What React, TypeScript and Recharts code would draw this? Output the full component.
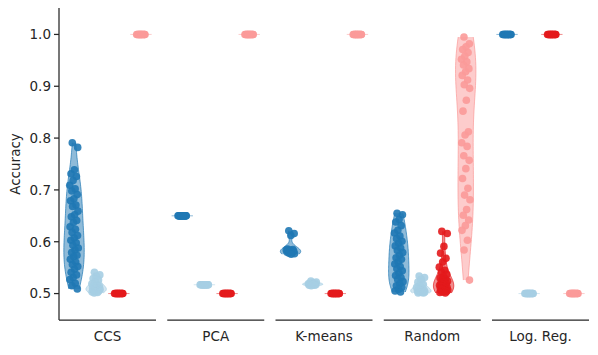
import { Area, ComposedChart, ReferenceLine, Scatter, XAxis, YAxis } from "recharts"

const categories = ["CCS", "PCA", "K-means", "Random", "Log. Reg."]
const yTicks = [0.5, 0.6, 0.7, 0.8, 0.9, 1.0]

// CCS
const ccsDark = [
  0.791, 0.782, 0.739, 0.731, 0.726, 0.718, 0.709, 0.702, 0.698, 0.691, 0.683, 0.679, 0.671, 0.668, 0.659,
  0.652, 0.648, 0.641, 0.637, 0.629, 0.624, 0.618, 0.612, 0.607, 0.603, 0.598, 0.593, 0.588, 0.584, 0.579,
  0.574, 0.571, 0.566, 0.561, 0.556, 0.552, 0.547, 0.541, 0.536, 0.531, 0.527, 0.52, 0.515, 0.509,
]
const ccsLight = [
  0.541, 0.536, 0.533, 0.529, 0.526, 0.522, 0.519, 0.517, 0.515, 0.514, 0.512, 0.511, 0.51, 0.509, 0.508,
  0.507, 0.506, 0.505, 0.504, 0.503, 0.502, 0.501,
]
const ccsRed = [0.5, 0.5, 0.5, 0.5, 0.5, 0.5, 0.5, 0.5, 0.5, 0.5, 0.5, 0.5, 0.5, 0.5, 0.5, 0.5]
const ccsPink = [1, 1, 1, 1, 1, 1, 1, 1, 1, 1, 1, 1, 1, 1, 1, 1]

// PCA
const pcaDark = [0.65, 0.65, 0.65, 0.65, 0.65, 0.65, 0.65, 0.65, 0.65, 0.65, 0.65, 0.65, 0.65, 0.65, 0.65, 0.65]
const pcaLight = [0.517, 0.517, 0.517, 0.517, 0.517, 0.517, 0.517, 0.517, 0.517, 0.517, 0.517, 0.517, 0.517, 0.517, 0.517, 0.517]
const pcaRed = [0.5, 0.5, 0.5, 0.5, 0.5, 0.5, 0.5, 0.5, 0.5, 0.5, 0.5, 0.5, 0.5, 0.5, 0.5, 0.5]
const pcaPink = [1, 1, 1, 1, 1, 1, 1, 1, 1, 1, 1, 1, 1, 1, 1, 1]

// K-means
const kmDark = [0.621, 0.616, 0.612, 0.586, 0.585, 0.584, 0.584, 0.583, 0.582, 0.582, 0.581, 0.58, 0.579, 0.578, 0.577, 0.576]
const kmLight = [0.524, 0.522, 0.521, 0.52, 0.52, 0.519, 0.519, 0.518, 0.518, 0.517, 0.517, 0.516, 0.516, 0.515]
const kmRed = [0.5, 0.5, 0.5, 0.5, 0.5, 0.5, 0.5, 0.5, 0.5, 0.5, 0.5, 0.5, 0.5, 0.5, 0.5, 0.5]
const kmPink = [1, 1, 1, 1, 1, 1, 1, 1, 1, 1, 1, 1, 1, 1, 1, 1]

// Random
const rndDark = [
  0.655, 0.652, 0.643, 0.638, 0.631, 0.622, 0.617, 0.611, 0.606, 0.601, 0.597, 0.592, 0.588, 0.583, 0.579,
  0.574, 0.569, 0.566, 0.561, 0.557, 0.552, 0.548, 0.544, 0.539, 0.535, 0.531, 0.527, 0.523, 0.519, 0.515,
  0.512, 0.508, 0.505, 0.503,
]
const rndLight = [
  0.534, 0.531, 0.527, 0.522, 0.518, 0.515, 0.512, 0.51, 0.508, 0.507, 0.506, 0.505, 0.504, 0.503, 0.503,
  0.502, 0.501, 0.501,
]
const rndRed = [
  0.62, 0.616, 0.591, 0.578, 0.568, 0.561, 0.551, 0.545, 0.541, 0.537, 0.533, 0.53, 0.528, 0.526, 0.524,
  0.522, 0.52, 0.519, 0.518, 0.516, 0.515, 0.514, 0.512, 0.511, 0.51, 0.509, 0.508, 0.507, 0.506, 0.505,
  0.504, 0.503, 0.502, 0.501,
]
const rndPink = [
  0.995, 0.982, 0.976, 0.971, 0.965, 0.958, 0.952, 0.947, 0.941, 0.934, 0.928, 0.921, 0.912, 0.903, 0.896,
  0.873, 0.852, 0.812, 0.806, 0.791, 0.784, 0.766, 0.757, 0.741, 0.722, 0.703, 0.69, 0.681, 0.662, 0.651,
  0.642, 0.631, 0.622, 0.603, 0.584, 0.526,
]

// Log. Reg.
const lrDark = [1, 1, 1, 1, 1, 1, 1, 1, 1, 1, 1, 1, 1, 1, 1, 1]
const lrLight = [0.5, 0.5, 0.5, 0.5, 0.5, 0.5, 0.5, 0.5, 0.5, 0.5, 0.5, 0.5, 0.5, 0.5, 0.5, 0.5]
const lrRed = [1, 1, 1, 1, 1, 1, 1, 1, 1, 1, 1, 1, 1, 1, 1, 1]
const lrPink = [0.5, 0.5, 0.5, 0.5, 0.5, 0.5, 0.5, 0.5, 0.5, 0.5, 0.5, 0.5, 0.5, 0.5, 0.5, 0.5]

const groups = [
  [ccsDark, ccsLight, ccsRed, ccsPink],
  [pcaDark, pcaLight, pcaRed, pcaPink],
  [kmDark, kmLight, kmRed, kmPink],
  [rndDark, rndLight, rndRed, rndPink],
  [lrDark, lrLight, lrRed, lrPink],
]

const colors = ["#1f78b4", "#a6cee3", "#e31a1c", "#fb9a99"]
const STEP = 1.116
const offsets = [-0.345, -0.117, 0.117, 0.345]
const HALF = 0.105
const JITTER = 0.09
const Y_MIN = 0.449
const Y_MAX = 1.051
const INK = "#262626"

// gaussian kde, scott bandwidth, cut at data range
function violin(values: number[], center: number) {
  const n = values.length
  const mean = values.reduce((a, b) => a + b, 0) / n
  const sd = Math.sqrt(values.reduce((a, b) => a + (b - mean) ** 2, 0) / (n - 1))
  if (sd < 1e-9) return null
  const bw = sd * Math.pow(n, -1 / 5)
  const lo = Math.min(...values)
  const hi = Math.max(...values)
  const pts = []
  for (let k = 0; k <= 60; k++) {
    const y = lo + ((hi - lo) * k) / 60
    let d = 0
    for (const v of values) d += Math.exp(-0.5 * ((y - v) / bw) ** 2)
    pts.push({ y, d })
  }
  const max = Math.max(...pts.map((p) => p.d))
  return pts.map((p) => ({ y: p.y, r: [center - (p.d / max) * HALF, center + (p.d / max) * HALF] }))
}

const series = groups.flatMap((g, i) =>
  g.map((values, h) => {
    const center = i * STEP + offsets[h]
    return {
      key: `${i}-${h}`,
      color: colors[h],
      center,
      value: values[0],
      shape: violin(values, center),
      points: values.map((y, k) => ({ x: center + (((k * 0.618034 + 0.3) % 1) - 0.5) * JITTER, y })),
    }
  })
)

export default function App() {
  return (
    <div style={{ position: "absolute", left: 0, top: 0 }}>
      <ComposedChart
        width={598}
        height={355}
        layout="vertical"
        margin={{ top: 8, right: 9, bottom: 5, left: 0 }}
        style={{ fontFamily: "DejaVu Sans" }}
      >
        <XAxis
          type="number"
          dataKey="x"
          domain={[-0.5, 4 * STEP + 0.5]}
          allowDataOverflow
          ticks={categories.map((_, i) => i * STEP)}
          interval={0}
          tickFormatter={(v) => categories[Math.round(v / STEP)]}
          axisLine={false}
          tickLine={false}
          tickMargin={5}
          height={30}
          tick={{ fill: INK, fontSize: 13.5 }}
        />
        <YAxis
          type="number"
          dataKey="y"
          reversed
          domain={[Y_MIN, Y_MAX]}
          allowDataOverflow
          ticks={yTicks}
          interval={0}
          tickFormatter={(v) => v.toFixed(1)}
          width={59}
          tickSize={5}
          tickMargin={3}
          axisLine={{ stroke: INK, strokeWidth: 1.25 }}
          tickLine={{ stroke: INK, strokeWidth: 1.25 }}
          tick={{ fill: INK, fontSize: 13.5 }}
          label={{
            value: "Accuracy",
            angle: -90,
            position: "insideLeft",
            offset: 15,
            style: { textAnchor: "middle", fill: INK, fontSize: 13.5 },
          }}
        />
        {categories.map((c, i) => (
          <ReferenceLine
            key={c}
            ifOverflow="visible"
            segment={[
              { x: i * STEP - 0.5, y: Y_MIN },
              { x: i * STEP + 0.5, y: Y_MIN },
            ]}
            stroke={INK}
            strokeWidth={1.25}
          />
        ))}
        {series.map((s) =>
          s.shape ? (
            <Area
              key={`v${s.key}`}
              data={s.shape}
              dataKey="r"
              type="linear"
              fill={s.color}
              fillOpacity={0.5}
              stroke={s.color}
              strokeOpacity={0.7}
              strokeWidth={1}
              dot={false}
              activeDot={false}
              isAnimationActive={false}
            />
          ) : (
            <ReferenceLine
              key={`v${s.key}`}
              ifOverflow="visible"
              segment={[
                { x: s.center - 0.11, y: s.value },
                { x: s.center + 0.11, y: s.value },
              ]}
              stroke={s.color}
              strokeOpacity={0.5}
              strokeWidth={1}
            />
          )
        )}
        {series.map((s) => (
          <Scatter
            key={`p${s.key}`}
            data={s.points}
            isAnimationActive={false}
            shape={(p: any) => <circle cx={p.cx} cy={p.cy} r={3.8} fill={s.color} fillOpacity={0.9} />}
          />
        ))}
      </ComposedChart>
    </div>
  )
}
